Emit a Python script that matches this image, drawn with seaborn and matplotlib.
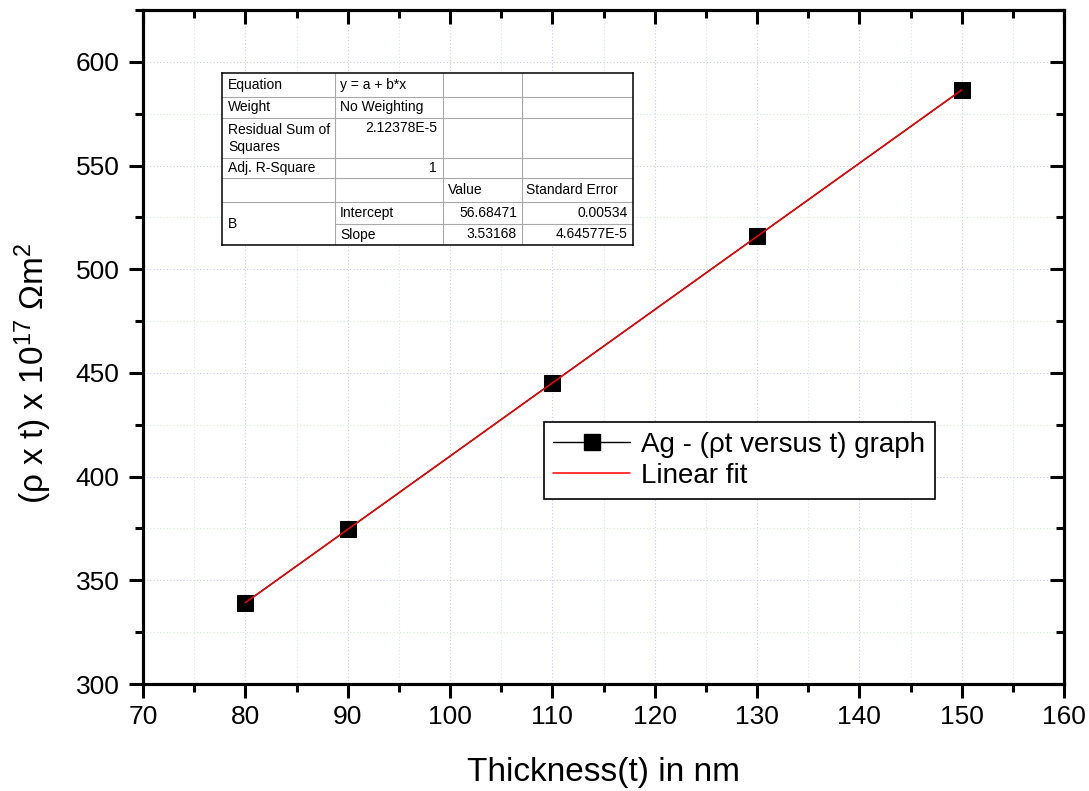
#!/usr/bin/env python3
# rho*t versus thickness for Ag films, with the linear fit and Origin-style fit table

import numpy as np
import pandas as pd
import seaborn as sns
import matplotlib.pyplot as plt
from matplotlib.lines import Line2D
from matplotlib.ticker import MultipleLocator, NullFormatter

# data
THICKNESS = [80, 90, 110, 130, 150]                 # nm
RHO_T     = [339.2, 374.5, 445.2, 515.8, 586.4]     # (rho x t) x 1e17 Ohm m^2

# fit report (Origin table)
TABLE_ROWS = [
    ["Equation", "y = a + b*x", "", ""],
    ["Weight", "No Weighting", "", ""],
    ["Residual Sum of\nSquares", "2.12378E-5", "", ""],
    ["Adj. R-Square", "1", "", ""],
    ["", "", "Value", "Standard Error"],
    ["B", "Intercept", "56.68471", "0.00534"],
    ["", "Slope", "3.53168", "4.64577E-5"],
]

W, H = 1089, 791


def px_box(x0, y0, x1, y1):
    # pixel box (top-left origin) -> figure fraction rect
    return [x0 / W, (H - y1) / H, (x1 - x0) / W, (y1 - y0) / H]


def draw_table(fig):
    cols = [222, 335, 443, 522, 633]
    rows = [73, 96.7, 117.7, 158, 177.7, 201.7, 224, 245]
    tax = fig.add_axes(px_box(cols[0], rows[0], cols[-1], rows[-1]), zorder=5)
    tax.set_xlim(cols[0], cols[-1])
    tax.set_ylim(rows[-1], rows[0])
    tax.set_facecolor("white")
    tax.set_xticks([]); tax.set_yticks([])
    for s in tax.spines.values():
        s.set_linewidth(1.1); s.set_color("black")

    grey = "#a8a8a8"
    for r in rows[1:6]:
        tax.hlines(r, cols[0], cols[-1], color=grey, lw=0.8)
    tax.hlines(rows[6], cols[1], cols[-1], color=grey, lw=0.8)
    for c in cols[1:4]:
        tax.vlines(c, rows[0], rows[-1], color=grey, lw=0.8)

    fs = 10
    kw = dict(fontsize=fs, va="center", color="black")

    def mid(i):
        return (rows[i] + rows[i + 1]) / 2

    # column 0
    tax.text(cols[0] + 6, mid(0), TABLE_ROWS[0][0], ha="left", **kw)
    tax.text(cols[0] + 6, mid(1), TABLE_ROWS[1][0], ha="left", **kw)
    l1, l2 = TABLE_ROWS[2][0].split("\n")
    tax.text(cols[0] + 6, 129.5, l1, ha="left", **kw)
    tax.text(cols[0] + 6, 147, l2, ha="left", **kw)
    tax.text(cols[0] + 6, mid(3), TABLE_ROWS[3][0], ha="left", **kw)
    tax.text(cols[0] + 6, (rows[5] + rows[7]) / 2 + 1, TABLE_ROWS[5][0], ha="left", **kw)
    # column 1
    tax.text(cols[1] + 5, mid(0), TABLE_ROWS[0][1], ha="left", **kw)
    tax.text(cols[1] + 5, mid(1), TABLE_ROWS[1][1], ha="left", **kw)
    tax.text(cols[2] - 6, 128.5, TABLE_ROWS[2][1], ha="right", **kw)
    tax.text(cols[2] - 6, mid(3), TABLE_ROWS[3][1], ha="right", **kw)
    tax.text(cols[1] + 5, mid(5), TABLE_ROWS[5][1], ha="left", **kw)
    tax.text(cols[1] + 5, mid(6), TABLE_ROWS[6][1], ha="left", **kw)
    # header row
    tax.text(cols[2] + 5, mid(4), TABLE_ROWS[4][2], ha="left", **kw)
    tax.text(cols[3] + 4, mid(4), TABLE_ROWS[4][3], ha="left", **kw)
    # values
    for i in (5, 6):
        tax.text(cols[3] - 5, mid(i), TABLE_ROWS[i][2], ha="right", **kw)
        tax.text(cols[4] - 5, mid(i), TABLE_ROWS[i][3], ha="right", **kw)


def main():
    df = pd.DataFrame({"t": THICKNESS, "rt": RHO_T})

    sns.set_style("white")
    plt.rcParams["font.family"] = ["Liberation Sans", "DejaVu Sans"]
    plt.rcParams["mathtext.fontset"] = "custom"
    plt.rcParams["mathtext.rm"] = "Liberation Sans"
    plt.rcParams["mathtext.default"] = "regular"
    for k in ("text.color", "axes.labelcolor", "xtick.color", "ytick.color", "axes.edgecolor"):
        plt.rcParams[k] = "black"

    fig = plt.figure(figsize=(W / 100, H / 100), dpi=100)
    ax = fig.add_axes(px_box(143, 10, 1064, 684))

    # data line + squares
    sns.lineplot(data=df, x="t", y="rt", color="black", lw=1.0, marker="s",
                 markersize=11, markeredgecolor="black", ax=ax, zorder=2)
    # linear fit on top
    sns.regplot(data=df, x="t", y="rt", scatter=False, ci=None, truncate=True,
                line_kws=dict(color="red", lw=1.1, zorder=3), ax=ax)

    ax.set_xlim(70, 160)
    ax.set_ylim(300, 625)
    ax.xaxis.set_major_locator(MultipleLocator(10))
    ax.xaxis.set_minor_locator(MultipleLocator(5))
    ax.yaxis.set_major_locator(MultipleLocator(50))
    ax.yaxis.set_minor_locator(MultipleLocator(25))

    # faint Origin-like grid
    ax.grid(True, which="major", linestyle=(0, (1, 2)), color="#c8c8f0", lw=0.8)
    ax.grid(True, which="minor", linestyle=(0, (1, 2)), color="#d2ecd2", lw=0.8)
    ax.set_axisbelow(True)

    for s in ax.spines.values():
        s.set_visible(True); s.set_linewidth(2.2); s.set_color("black")
    ax.tick_params(which="major", direction="out", length=10, width=2.2,
                   labelsize=19, colors="black", bottom=True, left=True)
    ax.tick_params(axis="x", which="major", pad=5)
    ax.tick_params(axis="y", which="major", pad=7)
    ax.tick_params(which="minor", direction="out", length=6, width=2.2,
                   bottom=True, left=True)

    # inward ticks on top and right via twin axes
    ax_top = ax.twiny()
    ax_top.set_xlim(ax.get_xlim())
    ax_top.xaxis.set_major_locator(MultipleLocator(10))
    ax_top.xaxis.set_minor_locator(MultipleLocator(5))
    ax_top.xaxis.set_major_formatter(NullFormatter())
    ax_right = ax.twinx()
    ax_right.set_ylim(ax.get_ylim())
    ax_right.yaxis.set_major_locator(MultipleLocator(50))
    ax_right.yaxis.set_minor_locator(MultipleLocator(25))
    ax_right.yaxis.set_major_formatter(NullFormatter())
    for tw in (ax_top, ax_right):
        tw.grid(False)
        for s in tw.spines.values():
            s.set_linewidth(2.2); s.set_color("black")
        tw.tick_params(which="major", direction="in", length=10, width=2.2, colors="black")
        tw.tick_params(which="minor", direction="in", length=6, width=2.2, colors="black")
    ax_top.tick_params(which="both", top=True, bottom=False, labeltop=False, labelbottom=False)
    ax_top.tick_params(axis="y", which="both", left=False, right=False,
                       labelleft=False, labelright=False)
    ax_right.tick_params(which="both", right=True, left=False, labelright=False, labelleft=False)
    ax_right.tick_params(axis="x", which="both", top=False, bottom=False,
                         labeltop=False, labelbottom=False)

    ax.set_xlabel("Thickness(t) in nm", fontsize=24)
    ax.set_ylabel("(ρ x t) x 10$^{17}$ Ωm$^{2}$", fontsize=24)
    ax.xaxis.set_label_coords(0.5, -0.108)
    ax.yaxis.set_label_coords(-0.097, 0.461)

    handles = [
        Line2D([], [], color="black", lw=1.0, marker="s", markersize=11,
               markerfacecolor="black"),
        Line2D([], [], color="red", lw=1.1),
    ]
    labels = ["Ag - (ρt versus t) graph", "Linear fit"]
    leg = ax_right.legend(handles, labels, loc="upper left", bbox_to_anchor=(0.435, 0.389),
                          borderaxespad=0, fontsize=20, frameon=True, fancybox=False,
                          numpoints=1, handlelength=2.75, handletextpad=0.4,
                          labelspacing=0.2, borderpad=0.35, framealpha=1)
    leg.get_frame().set_edgecolor("black")
    leg.get_frame().set_linewidth(1.2)

    draw_table(fig)

    fig.savefig("out.png", dpi=100)


if __name__ == "__main__":
    main()
